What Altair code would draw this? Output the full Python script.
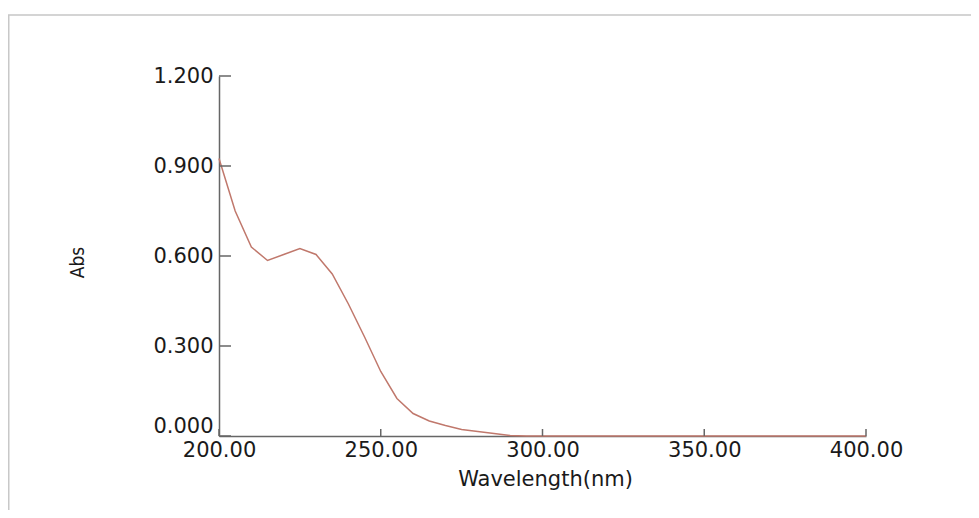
import altair as alt
import pandas as pd

wavelength = [200, 205, 210, 215, 220, 225, 230, 235, 240, 245, 250, 255, 260,
              265, 270, 275, 280, 285, 290, 295, 300, 320, 340, 360, 380, 400]
absorbance = [0.925, 0.75, 0.63, 0.585, 0.605, 0.625, 0.605, 0.54, 0.44, 0.33,
              0.215, 0.125, 0.075, 0.05, 0.035, 0.022, 0.015, 0.008, 0.002, 0.0,
              0.0, 0.0, 0.0, 0.0, 0.0, 0.0]
y_ticks = [0.0, 0.3, 0.6, 0.9, 1.2]
x_ticks = [200, 250, 300, 350, 400]

df = pd.DataFrame({"wl": wavelength, "abs": absorbance})
ydf = pd.DataFrame({"v": y_ticks})
xdf = pd.DataFrame({"v": x_ticks})

xscale = alt.Scale(domain=[200, 400], nice=False, zero=False)
yscale = alt.Scale(domain=[0, 1.2], nice=False)

FONT = "DejaVu Sans"

line = alt.Chart(df).mark_line(color="#c0786c", strokeWidth=1.5).encode(
    x=alt.X("wl:Q", scale=xscale,
            axis=alt.Axis(values=x_ticks, format=".2f", ticks=False, tickSize=0,
                          grid=False, labelPadding=3, labelFont=FONT,
                          labelFontSize=21, labelColor="#1a1a1a",
                          domainColor="#666", domainWidth=1.5,
                          title="Wavelength(nm)", titleFont=FONT,
                          titleFontSize=21, titleFontWeight="normal",
                          titleColor="#1a1a1a", titleX=326, titleY=49,
                          titleAlign="center", titleBaseline="alphabetic",
                          labelFlush=False)),
    y=alt.Y("abs:Q", scale=yscale,
            axis=alt.Axis(values=y_ticks, format=".3f", ticks=False, tickSize=0,
                          grid=False, labelPadding=6, labelFont=FONT,
                          labelFontSize=21, labelColor="#1a1a1a",
                          domainColor="#666", domainWidth=1.5,
                          labelOffset={"condition": {"test": "datum.value === 0", "value": -10}, "value": 0},
                          title="Abs", titleFont="'DejaVu Sans Condensed', 'Liberation Sans', sans-serif",
                          titleFontSize=19, titleFontWeight="normal",
                          titleColor="#1a1a1a", titleX=-142, titleY=186,
                          titleAngle=-90, titleAlign="center",
                          titleBaseline="middle", labelFlush=False)),
)

yt = alt.Chart(ydf).mark_rule(color="#666", strokeWidth=1.5).encode(
    y=alt.Y("v:Q", scale=yscale, axis=None),
    x=alt.value(0), x2=alt.value(12),
)
xt = alt.Chart(xdf).mark_rule(color="#666", strokeWidth=1.5).encode(
    x=alt.X("v:Q", scale=xscale, axis=None),
    y=alt.value(360), y2=alt.value(353),
)

frame_top = alt.Chart(xdf.head(1)).mark_rule(color="#d4d4d4", strokeWidth=2).encode(
    x=alt.value(-214), x2=alt.value(760), y=alt.value(-61),
)
frame_left = alt.Chart(xdf.head(1)).mark_rule(color="#c8c8c8", strokeWidth=3).encode(
    x=alt.value(-211), y=alt.value(-61), y2=alt.value(440),
)

chart = alt.layer(frame_top, frame_left, line, yt, xt).resolve_axis(
    x="independent", y="independent"
).properties(
    width=647, height=360,
    background="white",
    autosize=alt.AutoSizeParams(type="none"),
    padding={"left": 211, "top": 68, "right": 105, "bottom": 74},
).configure_view(stroke="transparent", strokeWidth=0)

chart.save("out.html", embed_options={"renderer": "svg", "actions": False})
